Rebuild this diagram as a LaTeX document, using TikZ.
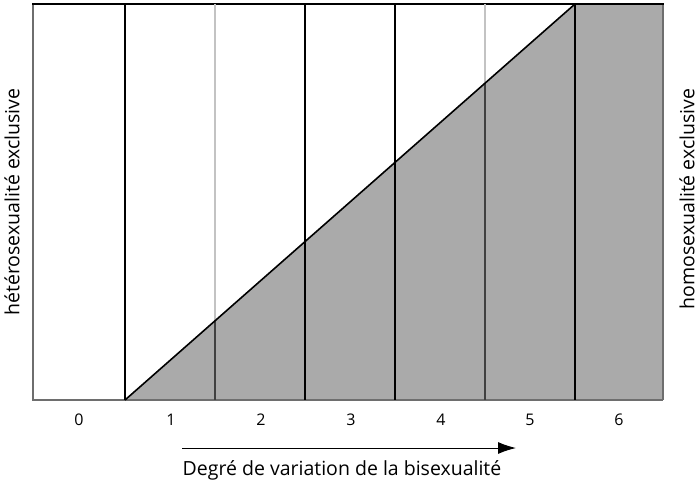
\documentclass[tikz,border=0pt]{standalone}
\usepackage{fontspec}
\setmainfont{Open Sans}
\usetikzlibrary{arrows.meta}
\definecolor{greyfill}{RGB}{170,170,170}
\definecolor{faint}{RGB}{195,195,195}
\definecolor{frame}{RGB}{110,110,110}
\tikzset{
  colline/.style={line width=1.8pt, black},
  faintline/.style={line width=1.2pt, faint},
  label/.style={font=\fontsize{16}{18}\selectfont, inner sep=0pt},
  sidelabel/.style={font=\fontsize{19.5}{22}\selectfont, inner sep=0pt, rotate=90}
}
\begin{document}
\begin{tikzpicture}[x=1pt,y=-1pt]
\useasboundingbox (0,0) rectangle (700,486);
% shaded part
\fill[greyfill] (125,400) -- (575,4) -- (575,400) -- cycle;
\fill[greyfill] (575,4) rectangle (663,400);
% frame
\draw[frame, line width=1.5pt] (33,4) -- (33,400) -- (663,400);
\draw[frame, line width=2.5pt] (663,4) -- (663,400);
\draw[line width=1.8pt] (32,4) -- (664,4);
% column lines
\draw[colline] (125,4) -- (125,400);
\draw[faintline] (215,4) -- (215,320.8);
\draw[colline, black!75] (215,320.8) -- (215,400);
\draw[colline] (305,4) -- (305,400);
\draw[colline] (395,4) -- (395,400);
\draw[faintline] (485,4) -- (485,83.2);
\draw[colline, black!75] (485,83.2) -- (485,400);
\draw[colline] (575,4) -- (575,400);
% diagonal
\draw[line width=1.6pt] (125,400) -- (575,4);
% scale
\foreach \n/\x in {0/79, 1/171, 2/261, 3/351, 4/441, 5/530, 6/619}
  \node[label] (n\n) at (\x,420) {\n};
\coordinate (arrowstart) at (182,448);
\coordinate (arrowend) at (516,448);
\draw[line width=1pt, -{Latex[length=18pt,width=12pt]}] (arrowstart) -- (arrowend);
\node[label, font=\fontsize{19.5}{22}\selectfont] (degree) at (342,470) {Degré de variation de la bisexualité};
\node[sidelabel] (hetero) at (12,202) {hétérosexualité exclusive};
\node[sidelabel] (homo) at (687,199) {homosexualité exclusive};
\end{tikzpicture}
\end{document}
